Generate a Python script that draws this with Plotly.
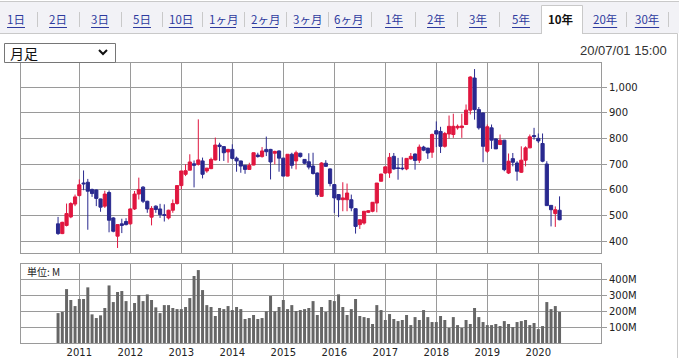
import plotly.graph_objects as go

W, H = 679, 358

# ---------------- data ----------------
start_year, start_month = 2010, 8
open_ = [468, 430, 462, 495, 545, 578, 627, 630, 602, 600, 565, 537, 590, 491, 420, 468, 477,
         468, 526, 584, 611, 556, 494, 537, 526, 504, 491, 521, 547,
         617, 661, 677, 702, 700, 713, 674, 683, 717, 775, 769, 748,
         758, 724, 713, 696, 680, 697, 736, 730, 758, 758, 743, 752,
         724, 654, 739, 713, 743, 719, 710, 693, 666, 575, 704, 682,
         621, 582, 562, 562, 562, 527, 465, 471, 513, 517, 549, 634,
         666, 666, 731, 686, 685, 682, 721, 740, 716, 767, 763, 747,
         831, 828, 770, 818, 816, 842, 843, 855, 911, 1036, 913, 900,
         751, 842, 799, 777, 794, 666, 722, 705, 669, 716, 764, 812,
         801, 781, 701, 540, 508, 521]
high = [495, 476, 547, 552, 582, 641, 676, 643, 605, 602, 566, 597, 598, 494, 466, 488, 490,
        528, 596, 648, 615, 558, 537, 540, 546, 544, 523, 563, 618,
        674, 700, 739, 715, 875, 726, 686, 726, 804, 784, 770, 760,
        778, 730, 714, 697, 706, 746, 745, 767, 808, 760, 753, 754,
        725, 739, 745, 753, 745, 720, 743, 745, 668, 708, 716, 684,
        622, 584, 630, 625, 582, 528, 485, 518, 521, 553, 627, 663,
        691, 744, 744, 725, 727, 724, 744, 742, 777, 772, 764, 820,
        867, 846, 826, 890, 897, 855, 897, 933, 1043, 1071, 923, 901,
        855, 855, 800, 816, 795, 742, 744, 712, 770, 770, 816, 842,
        820, 820, 712, 541, 536, 575]
low = [425, 428, 458, 490, 537, 575, 599, 445, 573, 537, 515, 530, 435, 435, 374, 432, 462,
       465, 522, 563, 549, 511, 462, 511, 491, 477, 485, 511, 543,
       602, 654, 677, 610, 695, 645, 667, 681, 715, 713, 713, 706,
       719, 671, 667, 663, 678, 696, 726, 726, 732, 641, 700, 671,
       654, 653, 683, 680, 726, 700, 680, 660, 573, 574, 690, 614,
       510, 494, 517, 517, 517, 430, 448, 465, 510, 513, 513, 633,
       662, 647, 679, 640, 677, 677, 718, 679, 705, 751, 721, 725,
       767, 744, 765, 800, 803, 835, 803, 853, 894, 874, 835, 708,
       744, 760, 760, 775, 673, 662, 692, 636, 666, 692, 763, 796,
       783, 708, 539, 458, 456, 482]
close = [430, 474, 508, 547, 573, 620, 624, 595, 586, 567, 533, 584, 482, 439, 465, 462, 465,
         526, 584, 602, 556, 526, 528, 524, 504, 501, 521, 547, 617,
         674, 675, 709, 696, 717, 661, 685, 719, 775, 769, 745, 758,
         723, 713, 693, 680, 696, 745, 730, 752, 749, 709, 750, 724,
         654, 739, 696, 745, 730, 704, 689, 664, 582, 705, 692, 625,
         569, 562, 569, 588, 530, 458, 484, 517, 519, 552, 627, 662,
         690, 727, 682, 684, 683, 723, 731, 715, 767, 755, 744, 816,
         818, 770, 820, 848, 848, 848, 849, 911, 1040, 913, 842, 770,
         846, 794, 760, 794, 679, 712, 708, 673, 716, 764, 807, 808,
         791, 712, 539, 523, 523, 484]
volume_m = [187, 194, 337, 269, 231,
            275, 275, 348, 179, 156, 173, 219, 360, 256, 319, 325, 262,
            198, 250, 300, 262, 304, 269, 223, 187, 237, 237, 219, 212,
            212, 225, 281, 419, 456, 331, 237, 225, 169, 219, 212, 231,
            206, 225, 212, 150, 156, 175, 150, 156, 198, 294, 198, 225,
            269, 212, 237, 200, 206, 212, 219, 262, 175, 225, 194, 269,
            262, 304, 225, 175, 212, 275, 169, 162, 156, 119, 237, 206,
            144, 181, 150, 137, 144, 175, 112, 162, 144, 206, 162, 131,
            131, 169, 144, 94, 162, 112, 94, 144, 119, 219, 162, 131,
            112, 112, 119, 106, 137, 119, 100, 131, 137, 144, 112, 125,
            87, 106, 256, 212, 231, 194]
year_labels = [str(y) for y in range(2011, 2021)]
price_ticks = [400, 500, 600, 700, 800, 900, 1000]
volume_ticks = [100, 200, 300, 400]
tabs = ["1日", "2日", "3日", "5日", "10日", "1ヶ月", "2ヶ月", "3ヶ月", "6ヶ月",
        "1年", "2年", "3年", "5年", "10年", "20年", "30年"]
selected_tab = "10年"
period_label = "月足"
timestamp = "20/07/01 15:00"
unit_label = "単位: M"

# ---------------- derived ----------------
n = len(close)
idx = list(range(n))
month_of = [(start_year + (start_month - 1 + i) // 12, (start_month - 1 + i) % 12 + 1) for i in idx]
jan_idx = [i for i in idx if month_of[i][1] == 1]

RED = "#e0163f"
BLUE = "#29298f"
GRID = "#9a9a9a"
LINK = "#2e3a9e"
LIGHT = "#c9c9c9"
TAB_FONT = 11.5

def px(x):
    return x / W

def py(y):
    return 1 - y / H

x_range = [-8.72, 127.75]

fig = go.Figure()
fig.add_trace(go.Candlestick(
    x=idx, open=open_, high=high, low=low, close=close,
    increasing=dict(line=dict(color=RED, width=1), fillcolor=RED),
    decreasing=dict(line=dict(color=BLUE, width=1), fillcolor=BLUE),
    whiskerwidth=0, hoverinfo="skip", showlegend=False,
    xaxis="x", yaxis="y"))
fig.add_trace(go.Bar(
    x=idx, y=volume_m, width=0.7, marker=dict(color="#666666", line=dict(width=0)),
    hoverinfo="skip", showlegend=False, xaxis="x2", yaxis="y2"))

tickfont = dict(family="DejaVu Sans", size=10, color="#222222")
axis_common = dict(showgrid=True, gridcolor=GRID, gridwidth=1, zeroline=False,
                   showline=True, linecolor=GRID, linewidth=1, mirror=True, fixedrange=True)

fig.update_layout(
    width=W, height=H, autosize=False,
    margin=dict(l=0, r=0, t=0, b=0),
    paper_bgcolor="white", plot_bgcolor="white",
    boxgap=0.25, boxgroupgap=0,
    xaxis=dict(domain=[px(21), px(601)], range=x_range, tickvals=jan_idx,
               showticklabels=False, ticks="", anchor="y",
               rangeslider=dict(visible=False), **axis_common),
    yaxis=dict(domain=[py(253), py(63)], range=[354.4, 1094.6], side="right",
               tickvals=price_ticks, ticktext=[f"{v:,}" for v in price_ticks],
               ticks="outside", ticklen=5, tickcolor=GRID, tickfont=tickfont,
               anchor="x", **axis_common),
    xaxis2=dict(domain=[px(21), px(601)], range=x_range, tickvals=jan_idx,
                ticktext=year_labels, ticks="", tickfont=tickfont, anchor="y2",
                **axis_common),
    yaxis2=dict(domain=[py(343), py(264)], range=[0, 494], side="right",
                tickvals=volume_ticks, ticktext=[f"{v}M" for v in volume_ticks],
                ticks="outside", ticklen=5, tickcolor=GRID, tickfont=tickfont,
                anchor="x2", **axis_common),
)

shapes = []
# tab strip
shapes.append(dict(type="rect", xref="paper", yref="paper", x0=0, x1=1, y0=py(33), y1=py(2),
                   fillcolor="#f2f2f6", line=dict(width=0), layer="below"))
shapes.append(dict(type="line", xref="paper", yref="paper", x0=0, x1=1, y0=py(1.5), y1=py(1.5),
                   line=dict(color=LIGHT, width=1)))
shapes.append(dict(type="line", xref="paper", yref="paper", x0=0, x1=px(541), y0=py(33.5), y1=py(33.5),
                   line=dict(color=LIGHT, width=1)))
shapes.append(dict(type="line", xref="paper", yref="paper", x0=px(582), x1=px(677.5), y0=py(33.5), y1=py(33.5),
                   line=dict(color=LIGHT, width=1)))
shapes.append(dict(type="rect", xref="paper", yref="paper", x0=px(541), x1=px(582), y0=py(34), y1=py(5),
                   fillcolor="white", line=dict(width=0)))
shapes.append(dict(type="path", xref="paper", yref="paper",
                   path=f"M {px(541.5)} {py(34)} L {px(541.5)} {py(5.5)} L {px(582.5)} {py(5.5)} L {px(582.5)} {py(34)}",
                   line=dict(color=LIGHT, width=1)))
shapes.append(dict(type="line", xref="paper", yref="paper", x0=px(677.5), x1=px(677.5), y0=py(33.5), y1=0,
                   line=dict(color=LIGHT, width=1)))
# dropdown box
shapes.append(dict(type="rect", xref="paper", yref="paper", x0=px(4.5), x1=px(115.5), y0=py(62.5), y1=py(43.5),
                   fillcolor="white", line=dict(color="#767676", width=1)))
shapes.append(dict(type="path", xref="paper", yref="paper",
                   path=f"M {px(99)} {py(50)} L {px(103)} {py(54)} L {px(107)} {py(50)}",
                   line=dict(color="#111111", width=2)))

tab_centers = [16, 58, 100, 142, 181, 223, 265, 307, 349, 394, 436, 478, 521, 561, 605, 647]
separators = [37, 79, 121, 162, 202, 244, 286, 328, 371, 415, 457, 499, 626, 668]
for s in separators:
    shapes.append(dict(type="line", xref="paper", yref="paper", x0=px(s + 0.5), x1=px(s + 0.5),
                       y0=py(27), y1=py(12), line=dict(color=LIGHT, width=1)))

def text_width(t, size):
    w = 0
    for ch in t:
        w += 0.56 * size if ch.isdigit() else (0.7 * size if ch == "ヶ" else size)
    return w

annotations = []
for t, cx in zip(tabs, tab_centers):
    if t == selected_tab:
        txt = f"<b>{t}</b>"
        col = "#111111"
    else:
        txt = t
        col = LINK
        w = text_width(t, TAB_FONT)
        shapes.append(dict(type="line", xref="paper", yref="paper",
                           x0=px(cx - w / 2), x1=px(cx + w / 2), y0=py(27.5), y1=py(27.5),
                           line=dict(color=LINK, width=1)))
    annotations.append(dict(x=px(cx), y=py(19), xref="paper", yref="paper", text=txt,
                            showarrow=False, xanchor="center", yanchor="middle",
                            font=dict(family="Noto Sans CJK JP", size=TAB_FONT, color=col)))
annotations.append(dict(x=px(8), y=py(53), xref="paper", yref="paper", text=period_label,
                        showarrow=False, xanchor="left", yanchor="middle",
                        font=dict(family="Noto Sans CJK JP", size=14, color="#111111")))
annotations.append(dict(x=px(669), y=py(50), xref="paper", yref="paper", text=timestamp,
                        showarrow=False, xanchor="right", yanchor="middle",
                        font=dict(family="Liberation Sans", size=13, color="#333333")))
annotations.append(dict(x=px(25), y=py(271), xref="paper", yref="paper", text=unit_label,
                        showarrow=False, xanchor="left", yanchor="middle",
                        font=dict(family="Noto Sans CJK JP", size=10, color="#222222")))

fig.update_layout(shapes=shapes, annotations=annotations)
fig.write_html("out.html", config={"displayModeBar": False},
               post_script="document.body.style.margin='0';document.body.style.overflow='hidden';")
